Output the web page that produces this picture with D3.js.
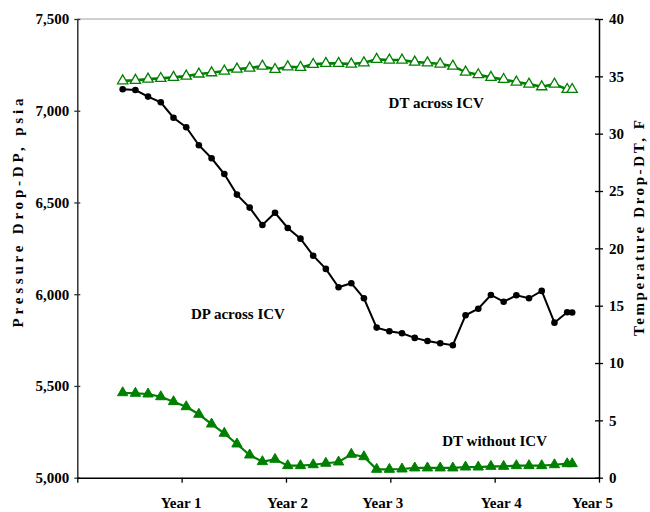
<!DOCTYPE html>
<html>
<head>
<meta charset="utf-8">
<script src="https://cdn.jsdelivr.net/npm/d3@7"></script>
<style>
  html, body { margin: 0; padding: 0; background: #fff; }
  svg { display: block; }
  text { font-family: "Liberation Serif", "Times New Roman", serif; font-weight: bold; }
</style>
</head>
<body>
<svg id="chart" width="650" height="512"></svg>
<script>
// Time of each sample, in years
const years = [0.435, 0.557, 0.678, 0.800, 0.922, 1.044, 1.165, 1.287, 1.409, 1.530,
  1.652, 1.774, 1.895, 2.017, 2.139, 2.261, 2.382, 2.504, 2.626, 2.747,
  2.869, 2.991, 3.112, 3.234, 3.356, 3.478, 3.599, 3.721, 3.843, 3.964,
  4.086, 4.208, 4.329, 4.451, 4.573, 4.695, 4.743];

// DP across ICV, psia (left axis)
const dpAcross = [7117, 7113, 7077, 7046, 6962, 6910, 6812, 6741, 6655, 6543,
  6472, 6377, 6444, 6361, 6303, 6210, 6138, 6038, 6060, 5978,
  5818, 5798, 5787, 5762, 5745, 5733, 5722, 5885, 5921, 5996,
  5959, 5994, 5978, 6018, 5845, 5902, 5900];

// DT across ICV, F (right axis)
const dtAcross = [34.61, 34.65, 34.76, 34.82, 34.91, 35.02, 35.20, 35.31, 35.46, 35.63,
  35.72, 35.89, 35.60, 35.83, 35.78, 36.04, 36.13, 36.13, 36.07, 36.18,
  36.48, 36.42, 36.42, 36.24, 36.18, 36.07, 35.89, 35.37, 35.14, 34.91,
  34.73, 34.50, 34.32, 34.09, 34.32, 33.86, 33.86];

// DT without ICV, F (right axis)
const dtWithout = [7.41, 7.36, 7.30, 7.06, 6.63, 6.19, 5.53, 4.68, 3.87, 2.94,
  1.98, 1.40, 1.60, 1.05, 1.05, 1.13, 1.26, 1.37, 2.04, 1.83,
  0.73, 0.73, 0.76, 0.85, 0.85, 0.85, 0.85, 0.93, 0.93, 0.99,
  0.99, 1.05, 1.05, 1.05, 1.13, 1.22, 1.22];

const leftTicks = [5000, 5500, 6000, 6500, 7000, 7500];
const rightTicks = [0, 5, 10, 15, 20, 25, 30, 35, 40];
const xTicks = [0, 1, 2, 3, 4, 5];
const xTickLabels = ["", "Year 1", "Year 2", "Year 3", "Year 4", "Year 5"];

const leftTitle = "Pressure Drop-DP, psia";
const rightTitle = "Temperature Drop-DT, F";
const seriesLabels = [
  { text: "DT across ICV", x: 3.44, axis: "R", v: 32.2 },
  { text: "DP across ICV", x: 1.54, axis: "L", v: 5865 },
  { text: "DT without ICV", x: 4.0, axis: "R", v: 2.75 }
];

const svg = d3.select("#chart");
const L = 77.3, R = 599, T = 19, B = 477.7;

const x = d3.scaleLinear().domain([0, 5]).range([L, R]);
const yL = d3.scaleLinear().domain([5000, 7500]).range([B, T]);
const yR = d3.scaleLinear().domain([0, 40]).range([B, T]);

// top border
svg.append("line").attr("x1", L).attr("x2", R).attr("y1", T).attr("y2", T)
  .attr("stroke", "#a0a0a0").attr("stroke-width", 1);

// left axis
const gL = svg.append("g").attr("transform", `translate(${L},0)`)
  .call(d3.axisLeft(yL).tickValues(leftTicks).tickFormat(d3.format(",")).tickSizeInner(3).tickSizeOuter(0).tickPadding(5));
gL.selectAll(".tick line").attr("x2", -3).attr("x1", 3).attr("stroke", "#333").attr("stroke-width", 1.3);
gL.select(".domain").attr("stroke", "#333").attr("stroke-width", 1.5);
gL.selectAll("text").attr("font-size", 15).attr("fill", "#000")
  .style("font-family", "Liberation Serif").style("font-weight", "bold");

// right axis
const gR = svg.append("g").attr("transform", `translate(${R},0)`)
  .call(d3.axisRight(yR).tickValues(rightTicks).tickSizeInner(4).tickSizeOuter(0).tickPadding(6));
gR.selectAll(".tick line").attr("x1", -4).attr("x2", 4).attr("stroke", "#000").attr("stroke-width", 1.3);
gR.select(".domain").attr("stroke", "#000").attr("stroke-width", 1.5);
gR.selectAll("text").attr("font-size", 15).attr("fill", "#000")
  .style("font-family", "Liberation Serif").style("font-weight", "bold");

// bottom axis
const labelShift = [0, -1, 1, -8, 6, -7];
const gB = svg.append("g").attr("transform", `translate(0,${B})`)
  .call(d3.axisBottom(x).tickValues(xTicks).tickFormat((d, i) => xTickLabels[i]).tickSizeInner(5).tickSizeOuter(0).tickPadding(15));
gB.selectAll(".tick line").attr("stroke", "#000").attr("stroke-width", 1.3);
gB.select(".domain").attr("stroke", "#000").attr("stroke-width", 1.5);
gB.selectAll("text").attr("font-size", 15).attr("fill", "#000")
  .attr("dx", (d, i) => labelShift[i])
  .style("font-family", "Liberation Serif").style("font-weight", "bold");

// axis titles
svg.append("text").attr("transform", `translate(23,213) rotate(-90)`)
  .attr("text-anchor", "middle").attr("font-size", 15).attr("fill", "#000")
  .attr("textLength", 229).attr("lengthAdjust", "spacing").text(leftTitle);
svg.append("text").attr("transform", `translate(644,228) rotate(-90)`)
  .attr("text-anchor", "middle").attr("font-size", 15).attr("fill", "#000")
  .attr("textLength", 216).attr("lengthAdjust", "spacing").text(rightTitle);

const green = "#008000";

// DT across ICV
const lineR = d3.line().x((d, i) => x(years[i])).y(d => yR(d));
svg.append("path").datum(dtAcross).attr("d", lineR)
  .attr("fill", "none").attr("stroke", green).attr("stroke-width", 2.6);
const tri = d3.symbol().type(d3.symbolTriangle).size(46);
svg.append("g").selectAll("path").data(dtAcross).join("path")
  .attr("d", tri).attr("transform", (d, i) => `translate(${x(years[i])},${yR(d)})`)
  .attr("fill", "#fff").attr("stroke", green).attr("stroke-width", 1.3);

// DT without ICV
svg.append("path").datum(dtWithout).attr("d", lineR)
  .attr("fill", "none").attr("stroke", green).attr("stroke-width", 2.2);
svg.append("g").selectAll("path").data(dtWithout).join("path")
  .attr("d", tri).attr("transform", (d, i) => `translate(${x(years[i])},${yR(d)})`)
  .attr("fill", green).attr("stroke", green).attr("stroke-width", 1);

// DP across ICV
const lineL = d3.line().x((d, i) => x(years[i])).y(d => yL(d));
svg.append("path").datum(dpAcross).attr("d", lineL)
  .attr("fill", "none").attr("stroke", "#000").attr("stroke-width", 2);
svg.append("g").selectAll("circle").data(dpAcross).join("circle")
  .attr("cx", (d, i) => x(years[i])).attr("cy", d => yL(d)).attr("r", 3.3)
  .attr("fill", "#000");

// series labels
svg.append("g").selectAll("text").data(seriesLabels).join("text")
  .attr("x", d => x(d.x)).attr("y", d => d.axis === "L" ? yL(d.v) : yR(d.v))
  .attr("text-anchor", "middle").attr("font-size", 15).attr("fill", "#000")
  .text(d => d.text);
</script>
</body>
</html>
